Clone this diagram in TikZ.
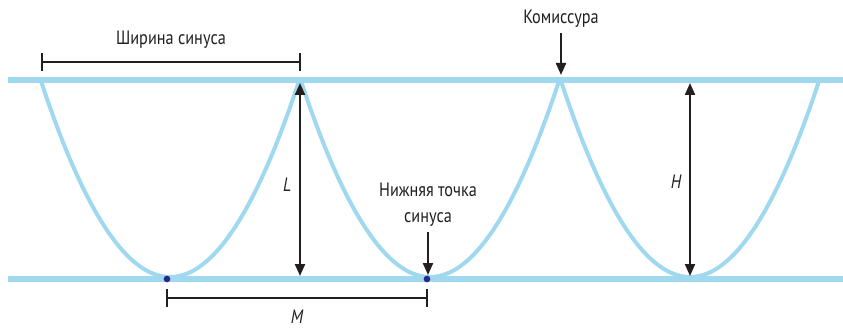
\documentclass[tikz,border=0pt]{standalone}
\usepackage{fontspec}
\setmainfont{PT Sans}[FakeStretch=0.84]
\usetikzlibrary{arrows.meta}
\definecolor{sinblue}{RGB}{160,216,239}
\definecolor{dotblue}{RGB}{40,40,140}
\definecolor{ink}{RGB}{35,31,32}
\begin{document}
\begin{tikzpicture}[x=0.75pt,y=-0.75pt,
  bar/.style={sinblue,line width=5.2pt},
  cusp/.style={sinblue,line width=3pt},
  dim/.style={ink,line width=1.6pt},
  arr/.style={ink,line width=1.6pt,-{Triangle[length=9pt,width=7.5pt]}},
  darr/.style={ink,line width=1.6pt,{Triangle[length=9pt,width=7.5pt]}-{Triangle[length=9pt,width=7.5pt]}},
  lbl/.style={font=\fontsize{14.5}{19.5}\selectfont,text=ink,inner sep=0pt},
  ilbl/.style={lbl,font=\fontsize{14.5}{19.5}\selectfont\itshape},
  dot/.style={circle,fill=dotblue,inner sep=0pt,minimum size=5pt}]
\useasboundingbox (0,0) rectangle (843,328);
% bars
\draw[bar] (8,80) -- (843,80);
\draw[bar] (8,279) -- (843,279);
% sinus curves
\foreach \c in {170,430,690}{
  \draw[cusp] plot[domain=-1:1,samples=61,smooth] ({\c+129*\x},{277-196*\x*\x});
}
% coordinates
\coordinate (b1) at (167,279);
\coordinate (b2) at (427,279);
% width dimension
\coordinate (w1) at (42,62);
\coordinate (w2) at (300,62);
\draw[dim] (w1) -- (w2);
\draw[dim] ([yshift=-9*0.75pt]w1) -- ([yshift=9*0.75pt]w1);
\draw[dim] ([yshift=-9*0.75pt]w2) -- ([yshift=9*0.75pt]w2);
\node[lbl] (wlab) at (171,40) {Ширина синуса};
% L arrow
\coordinate (l1) at (300,83);
\coordinate (l2) at (300,276);
\draw[darr] (l1) -- (l2);
\node[ilbl] (llab) at (287,185) {L};
% commissure
\node[lbl] (klab) at (561,19) {Комиссура};
\coordinate (k2) at (561,75);
\draw[arr] ([yshift=-5*0.75pt]klab.south) -- (k2);
% H arrow
\coordinate (h1) at (690,83);
\coordinate (h2) at (690,276);
\draw[darr] (h1) -- (h2);
\node[ilbl] (hlab) at (676,182) {H};
% nadir
\node[lbl,align=center] (nlab) at (428,205) {Нижняя точка\\синуса};
\coordinate (n2) at (428,275);
\draw[arr] ([yshift=-5*0.75pt]nlab.south) -- (n2);
% dots
\node[dot] (d1) at (b1) {};
\node[dot] (d2) at (b2) {};
% M dimension
\coordinate (m1) at (167,298);
\coordinate (m2) at (427,298);
\draw[dim] (m1) -- (m2);
\draw[dim] ([yshift=-9*0.75pt]m1) -- ([yshift=9*0.75pt]m1);
\draw[dim] ([yshift=-9*0.75pt]m2) -- ([yshift=9*0.75pt]m2);
\node[ilbl] (mlab) at (297,317) {M};
\end{tikzpicture}
\end{document}
